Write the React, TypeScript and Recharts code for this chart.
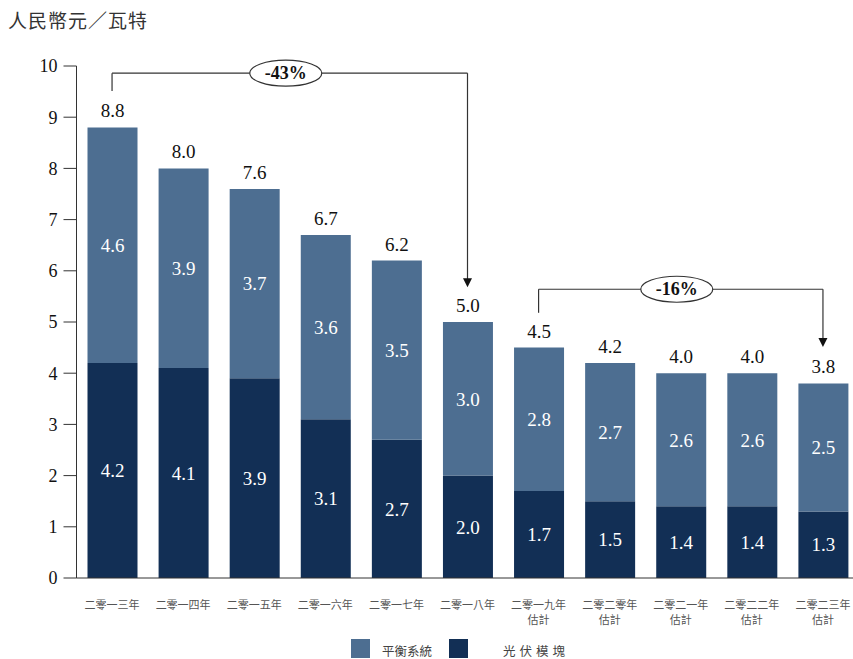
import { BarChart, Bar, XAxis, YAxis, LabelList, ReferenceLine, ReferenceDot } from "recharts";

// 每瓦成本：光伏模塊 + 平衡系統（人民幣元／瓦特）
const years = [
  "二零一三年", "二零一四年", "二零一五年", "二零一六年", "二零一七年", "二零一八年",
  "二零一九年", "二零二零年", "二零二一年", "二零二二年", "二零二三年",
];
const estimated = [false, false, false, false, false, false, true, true, true, true, true];
const balanceOfSystem = [4.6, 3.9, 3.7, 3.6, 3.5, 3.0, 2.8, 2.7, 2.6, 2.6, 2.5];
const pvModule = [4.2, 4.1, 3.9, 3.1, 2.7, 2.0, 1.7, 1.5, 1.4, 1.4, 1.3];
const yTicks = [0, 1, 2, 3, 4, 5, 6, 7, 8, 9, 10];

const LIGHT = "#4d6e91";
const DARK = "#122f55";
const INK = "#333";
const SERIF = "'Liberation Serif', 'Times New Roman', serif";
const CJK = "'Noto Sans CJK TC', 'Noto Sans CJK SC', sans-serif";

const data = years.map((year, i) => ({
  year,
  bos: balanceOfSystem[i],
  module: pvModule[i],
  total: Math.round((balanceOfSystem[i] + pvModule[i]) * 10) / 10,
}));

function CategoryTick({ x, y, payload, index }: any) {
  return (
    <g>
      <text x={x} y={y + 23} textAnchor="middle" fill="#555" fontSize={11} fontFamily={CJK}>
        {payload.value}
      </text>
      {estimated[index] && (
        <text x={x} y={y + 38} textAnchor="middle" fill="#555" fontSize={11} fontFamily={CJK}>
          估計
        </text>
      )}
    </g>
  );
}

function pill(text: string) {
  return (props: any) => {
    const vb = props.viewBox || {};
    const cx = vb.x + vb.width / 2 - 4;
    const cy = vb.y + vb.height / 2;
    return (
      <g>
        <ellipse cx={cx} cy={cy} rx={36} ry={13} fill="#fff" stroke={INK} strokeWidth={1.2} />
        <text x={cx} y={cy} dy={6} textAnchor="middle" fontFamily={SERIF} fontWeight="bold" fontSize={18} fill="#111">
          {text}
        </text>
      </g>
    );
  };
}

function ArrowHead({ cx, cy }: any) {
  return <path d={`M${cx - 4.5},${cy - 9} L${cx + 4.5},${cy - 9} L${cx},${cy} Z`} fill="#111" />;
}

const line = { stroke: INK, strokeWidth: 1.2 };

export default function App() {
  return (
    <div style={{ position: "absolute", left: 0, top: 0, width: 853, height: 659, overflow: "hidden", background: "#fff" }}>
      <div style={{ position: "absolute", left: 8, top: 6, fontFamily: CJK, fontSize: 19, letterSpacing: 1, color: "#333" }}>
        人民幣元／瓦特
      </div>
      <BarChart
        width={870}
        height={659}
        data={data}
        margin={{ top: 66, right: 11.5, bottom: 41, left: 0 }}
        barSize={50}
      >
        <XAxis
          dataKey="year"
          interval={0}
          axisLine={{ stroke: INK }}
          tickLine={false}
          height={40}
          tick={(p: any) => <CategoryTick {...p} />}
        />
        <YAxis
          width={76.5}
          domain={[0, 10]}
          ticks={yTicks}
          interval={0}
          axisLine={{ stroke: INK }}
          tickLine={{ stroke: INK }}
          tickSize={13}
          tickMargin={6}
          tick={{ fontSize: 18, fontFamily: SERIF, fill: "#111" }}
        />
        <Bar dataKey="module" stackId="a" fill={DARK} isAnimationActive={false}>
          <LabelList dataKey="module" position="center" fill="#fff" fontSize={19} fontFamily={SERIF}
            formatter={(v: any) => Number(v).toFixed(1)} />
        </Bar>
        <Bar dataKey="bos" stackId="a" fill={LIGHT} isAnimationActive={false}>
          <LabelList dataKey="bos" position="center" fill="#fff" fontSize={19} fontFamily={SERIF}
            formatter={(v: any) => Number(v).toFixed(1)} />
          <LabelList dataKey="total" position="top" offset={10} fill="#111" fontSize={19} fontFamily={SERIF}
            formatter={(v: any) => Number(v).toFixed(1)} />
        </Bar>

        {/* 二零一三年 → 二零一八年 降幅 */}
        <ReferenceLine segment={[{ x: years[0], y: 9.51 }, { x: years[0], y: 9.86 }]} {...line} />
        <ReferenceLine segment={[{ x: years[0], y: 9.86 }, { x: years[5], y: 9.86 }]} {...line} label={pill("-43%")} />
        <ReferenceLine segment={[{ x: years[5], y: 9.86 }, { x: years[5], y: 5.8 }]} {...line} />
        <ReferenceDot x={years[5]} y={5.68} shape={(p: any) => <ArrowHead {...p} />} />

        {/* 二零一九年 → 二零二三年 降幅 */}
        <ReferenceLine segment={[{ x: years[6], y: 5.18 }, { x: years[6], y: 5.64 }]} {...line} />
        <ReferenceLine segment={[{ x: years[6], y: 5.64 }, { x: years[10], y: 5.64 }]} {...line} label={pill("-16%")} />
        <ReferenceLine segment={[{ x: years[10], y: 5.64 }, { x: years[10], y: 4.63 }]} {...line} />
        <ReferenceDot x={years[10]} y={4.51} shape={(p: any) => <ArrowHead {...p} />} />
      </BarChart>

      {/* 圖例 */}
      <div style={{ position: "absolute", left: 351, top: 639, width: 19, height: 19, background: LIGHT }} />
      <div style={{ position: "absolute", left: 382, top: 641, fontFamily: CJK, fontSize: 12.5, color: "#444" }}>平衡系統</div>
      <div style={{ position: "absolute", left: 449, top: 639, width: 19, height: 19, background: DARK }} />
      <div style={{ position: "absolute", left: 503, top: 641, fontFamily: CJK, fontSize: 12.5, letterSpacing: 4, color: "#444" }}>光伏模塊</div>
    </div>
  );
}
